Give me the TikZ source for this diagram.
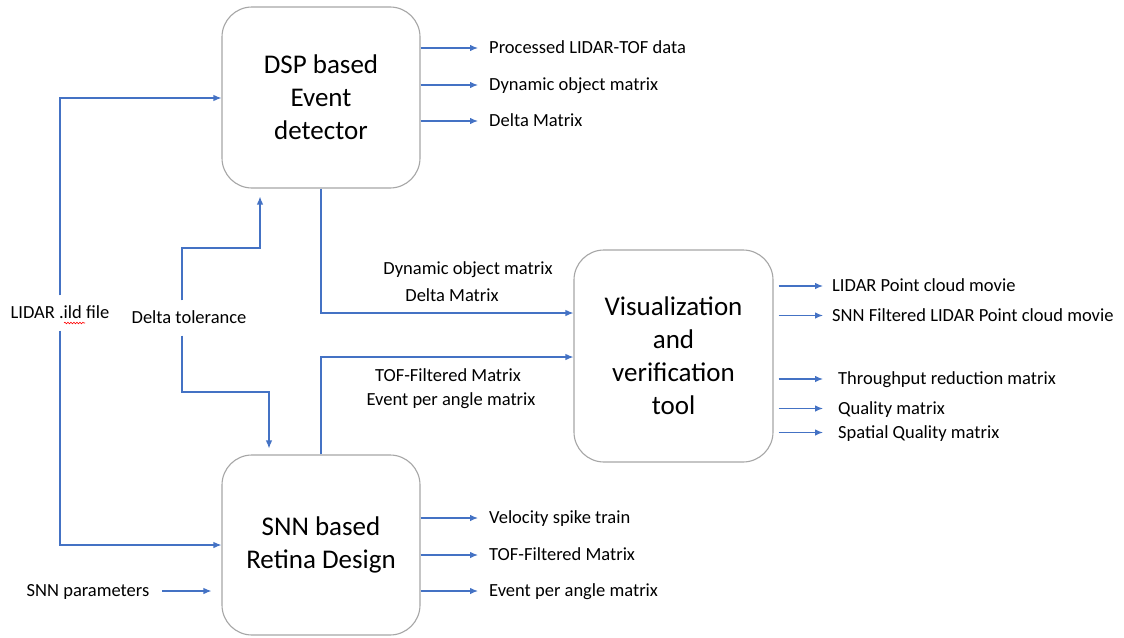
\documentclass[tikz,border=0pt]{standalone}
\usepackage{fontspec}
\setmainfont{Carlito}
\usetikzlibrary{arrows.meta,decorations.pathmorphing}
\definecolor{lineblue}{HTML}{4472C4}
\definecolor{boxgray}{HTML}{A6A6A6}
\begin{document}
\begin{tikzpicture}[x=1pt,y=-1pt,
  box/.style={draw=boxgray, line width=1.1pt, rounded corners=30pt, fill=white, align=center,
    font=\fontsize{27}{33}\selectfont, minimum width=198pt, inner sep=0pt},
  lbl/.style={font=\fontsize{18.5}{22}\selectfont, inner sep=0pt, text height=11pt, text depth=0pt},
  inlbl/.style={lbl, inner ysep=12pt},
  ln/.style={draw=lineblue, line width=1.2pt},
  arr/.style={ln, -{Latex[length=8pt,width=6.5pt]}}]
\useasboundingbox (0,0) rectangle (1124,637);
\fill[white] (0,0) rectangle (1124,637);

% boxes
\node[box, minimum height=181pt] (dsp) at (321,97.5) {DSP based\\Event\\detector};
\node[box, minimum width=199pt, minimum height=212pt] (vis) at (673.5,356) {Visualization\\and\\verification\\tool};
\node[box, minimum height=180pt] (snn) at (321,545) {SNN based\\Retina Design};

% DSP outputs
\node[lbl, anchor=west] (d1) at (489,48) {Processed LIDAR-TOF data};
\node[lbl, anchor=west] (d2) at (489,85) {Dynamic object matrix};
\node[lbl, anchor=west] (d3) at (489,121) {Delta Matrix};
\foreach \n in {d1,d2,d3}
  \draw[arr] (dsp.east |- \n.west) -- ([xshift=-11pt]\n.west);

% SNN outputs
\node[lbl, anchor=west] (s1) at (489,518) {Velocity spike train};
\node[lbl, anchor=west] (s2) at (489,555) {TOF-Filtered Matrix};
\node[lbl, anchor=west] (s3) at (489,591) {Event per angle matrix};
\foreach \n in {s1,s2,s3}
  \draw[arr] (snn.east |- \n.west) -- ([xshift=-11pt]\n.west);

% Vis outputs
\node[lbl, anchor=west] (v1) at (832,286) {LIDAR Point cloud movie};
\node[lbl, anchor=west] (v2) at (832,315.5) {SNN Filtered LIDAR Point cloud movie};
\node[lbl, anchor=west] (v3) at (838,379) {Throughput reduction matrix};
\node[lbl, anchor=west] (v4) at (838,408.5) {Quality matrix};
\node[lbl, anchor=west] (v5) at (838,432.5) {Spatial Quality matrix};
\foreach \n in {v1,v2}
  \draw[arr] ([xshift=5pt]vis.east |- \n.west) -- ([xshift=-9pt]\n.west);
\foreach \n in {v3,v4,v5}
  \draw[arr] ([xshift=5pt]vis.east |- \n.west) -- ([xshift=-15pt]\n.west);

% LIDAR input
\node[inlbl] (lidar) at (60,313) {LIDAR .ild file};
\draw[red, line width=0.6pt, decorate, decoration={snake, amplitude=0.8pt, segment length=3pt}]
  (64,323) -- (85,323);
\draw[arr] (lidar.north) |- (dsp.west |- 0,98);
\draw[arr] (lidar.south) |- (snn.west);

% Delta tolerance
\node[inlbl] (delta) at (189,318) {Delta tolerance};
\coordinate (dup) at (260,248);
\coordinate (ddn) at (269,392);
\draw[arr, shorten >=8pt] ([xshift=-7pt]delta.north) |- (dup) -- (dup |- dsp.south);
\draw[arr, shorten >=6pt] ([xshift=-7pt]delta.south) |- (ddn) -- (ddn |- snn.north);

% DSP -> Vis
\node[lbl] (m1) at (468,269) {Dynamic object matrix};
\node[lbl] (m2) at (452,296) {Delta Matrix};
\draw[arr] (dsp.south) |- ([yshift=43pt]vis.west);

% SNN -> Vis
\node[lbl] (m3) at (448,376) {TOF-Filtered Matrix};
\node[lbl] (m4) at (451,400) {Event per angle matrix};
\draw[arr] (snn.north) |- ([yshift=-1pt]vis.west);

% SNN parameters
\node[lbl] (par) at (88,591) {SNN parameters};
\draw[arr] ([xshift=13pt]par.east) -- ([xshift=-10pt]snn.west |- par.east);
\end{tikzpicture}
\end{document}
